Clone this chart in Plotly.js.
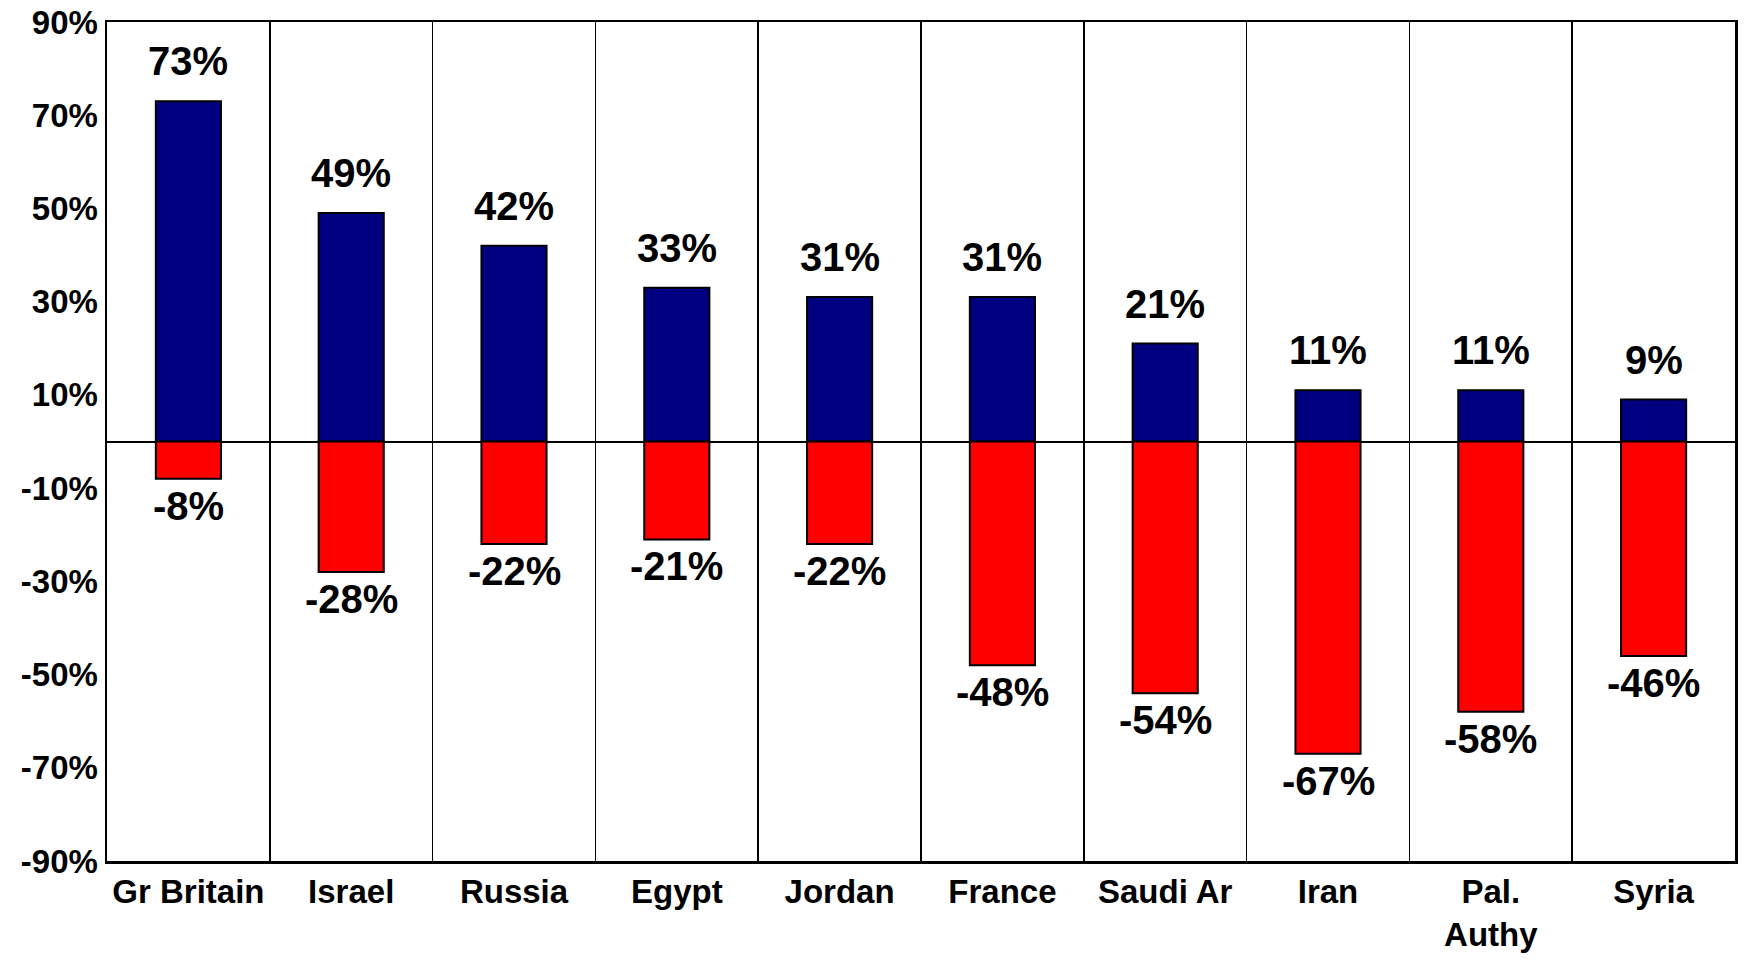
<!DOCTYPE html>
<html>
<head>
<meta charset="utf-8">
<script src="https://cdn.plot.ly/plotly-3.0.1.min.js"></script>
<style>html,body{margin:0;padding:0;background:#fff;}#chart{width:1744px;height:963px;}</style>
</head>
<body>
<div id="chart"></div>
<script>
const categories = ["Gr Britain", "Israel", "Russia", "Egypt", "Jordan", "France", "Saudi Ar", "Iran", "Pal.<br>Authy", "Syria"];
const positiveValues = [73, 49, 42, 33, 31, 31, 21, 11, 11, 9];
const negativeValues = [-8, -28, -22, -21, -22, -48, -54, -67, -58, -46];
const yTickValues = [-90, -70, -50, -30, -10, 10, 30, 50, 70, 90];
const yTickLabels = yTickValues.map(v => v + "%");

const fontFamily = "Liberation Sans, Arial, sans-serif";

const traces = [
  {
    type: "bar", x: categories, y: positiveValues, width: 0.4,
    marker: {color: "#000080", line: {color: "#000000", width: 2}},
    hoverinfo: "skip", showlegend: false
  },
  {
    type: "bar", x: categories, y: negativeValues, width: 0.4,
    marker: {color: "#FF0000", line: {color: "#000000", width: 2}},
    hoverinfo: "skip", showlegend: false
  }
];

const annotations = [];
categories.forEach((c, i) => {
  annotations.push({x: c, y: positiveValues[i], text: positiveValues[i] + "%", showarrow: false,
    yanchor: "middle", yshift: 40, font: {family: fontFamily, size: 40, color: "#000", weight: "bold"}});
  annotations.push({x: c, y: negativeValues[i], text: negativeValues[i] + "%", showarrow: false,
    yanchor: "middle", yshift: -27, font: {family: fontFamily, size: 40, color: "#000", weight: "bold"}});
});

const layout = {
  width: 1744, height: 963,
  margin: {l: 107, r: 9, t: 22, b: 102},
  paper_bgcolor: "#ffffff", plot_bgcolor: "#ffffff",
  barmode: "relative",
  font: {family: fontFamily, color: "#000", weight: "bold"},
  xaxis: {
    type: "category", tickson: "boundaries", showgrid: true, gridcolor: "#000", gridwidth: 1.5,
    showline: true, mirror: true, linecolor: "#000", linewidth: 2.5, ticks: "",
    tickfont: {family: fontFamily, size: 33, color: "#000", weight: "bold"}, fixedrange: true
  },
  yaxis: {
    range: [-90, 90], tickvals: yTickValues, ticktext: yTickLabels, showgrid: false,
    zeroline: true, zerolinecolor: "#000", zerolinewidth: 2,
    showline: true, mirror: true, linecolor: "#000", linewidth: 2.5, ticks: "",
    tickfont: {family: fontFamily, size: 33, color: "#000", weight: "bold"}, fixedrange: true
  },
  annotations: annotations
};

Plotly.newPlot("chart", traces, layout, {displayModeBar: false, staticPlot: true});
</script>
</body>
</html>
